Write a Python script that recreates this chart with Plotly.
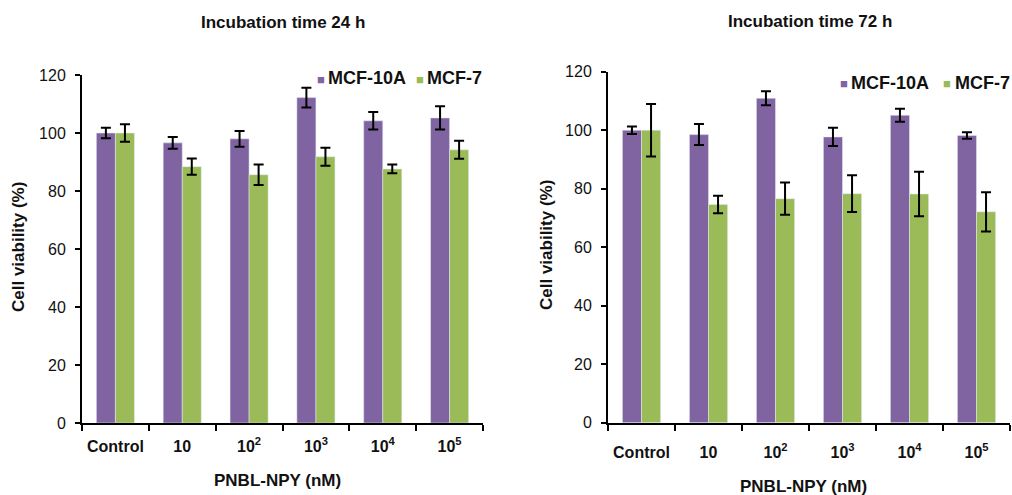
import plotly.graph_objects as go

categories = ["Control", "10", "10<sup>2</sup>", "10<sup>3</sup>", "10<sup>4</sup>", "10<sup>5</sup>"]
series_names = ["MCF-10A", "MCF-7"]

mcf10a_24 = [100, 96.6, 98.0, 112.2, 104.2, 105.2]
mcf10a_24_err = [1.8, 2.0, 2.7, 3.4, 3.0, 4.0]
mcf7_24 = [100, 88.4, 85.6, 91.8, 87.6, 94.2]
mcf7_24_err = [3.0, 2.8, 3.5, 3.1, 1.5, 3.1]

mcf10a_72 = [100, 98.5, 110.9, 97.7, 105.1, 98.2]
mcf10a_72_err = [1.3, 3.6, 2.4, 3.1, 2.2, 1.1]
mcf7_72 = [100, 74.6, 76.6, 78.3, 78.2, 72.1]
mcf7_72_err = [9.0, 3.0, 5.5, 6.3, 7.6, 6.7]

y_ticks = [0, 20, 40, 60, 80, 100, 120]

PURPLE = "#8064A2"
GREEN = "#9BBB59"
FONT = "Arial, Liberation Sans, sans-serif"
TXT = "#111"

W, H = 1012, 495


def px(x):
    return x / W


def py(y):
    return (H - y) / H


fig = go.Figure()


def err(vals):
    return dict(type="data", array=vals, color="black", thickness=2, width=5)


fig.add_trace(go.Bar(x=categories, y=mcf10a_24, error_y=err(mcf10a_24_err), name=series_names[0],
                     marker_color=PURPLE, xaxis="x", yaxis="y", showlegend=False))
fig.add_trace(go.Bar(x=categories, y=mcf7_24, error_y=err(mcf7_24_err), name=series_names[1],
                     marker_color=GREEN, xaxis="x", yaxis="y", showlegend=False))
fig.add_trace(go.Bar(x=categories, y=mcf10a_72, error_y=err(mcf10a_72_err), name=series_names[0],
                     marker_color=PURPLE, xaxis="x2", yaxis="y2", showlegend=False))
fig.add_trace(go.Bar(x=categories, y=mcf7_72, error_y=err(mcf7_72_err), name=series_names[1],
                     marker_color=GREEN, xaxis="x2", yaxis="y2", showlegend=False))

TF = dict(family=FONT, size=16, color=TXT)

xcommon = dict(showline=True, linecolor="black", linewidth=2, ticks="outside", tickson="boundaries",
               ticklen=6, tickwidth=2, tickcolor="black", showgrid=False, automargin=False,
               tickfont=TF, zeroline=False, tickprefix="<b>", ticksuffix="</b>", tickangle=0)
ycommon = dict(showline=True, linecolor="black", linewidth=2, ticks="outside", ticklen=5, tickwidth=2,
               tickcolor="black", showgrid=False, range=[0, 120], tickvals=y_ticks, automargin=False,
               tickfont=TF, zeroline=False, tickprefix="<b>", ticksuffix="</b>", ticklabelstandoff=6)

fig.update_layout(
    width=W, height=H,
    margin=dict(l=0, r=0, t=0, b=0, autoexpand=False),
    plot_bgcolor="white", paper_bgcolor="white",
    barmode="group", bargap=0.43, bargroupgap=0,
    font=dict(family=FONT, size=14, color=TXT),
    xaxis=dict(domain=[px(82), px(483)], anchor="y", ticklabelstandoff=8, **xcommon),
    yaxis=dict(domain=[py(423), py(75)], anchor="x", **ycommon),
    xaxis2=dict(domain=[px(608), px(1010)], anchor="y2", ticklabelstandoff=14, **xcommon),
    yaxis2=dict(domain=[py(422.7), py(71.7)], anchor="x2", **ycommon),
    showlegend=False,
    hovermode=False,
)


def ann(text, x, y, size=17, angle=0, color=TXT, xanchor="center"):
    fig.add_annotation(text=text, x=px(x), y=py(y), xref="paper", yref="paper",
                       showarrow=False, textangle=angle,
                       font=dict(family=FONT, size=size, color=color),
                       xanchor=xanchor, yanchor="middle")


ann("<b>Incubation time 24 h</b>", 283, 23, 17)
ann("<b>Incubation time 72 h</b>", 810, 22, 17)
ann("<b>Cell viability (%)</b>", 18, 247, 17, -90)
ann("<b>Cell viability (%)</b>", 547, 245, 17, -90)
ann("<b>PNBL-NPY (nM)</b>", 277, 480, 17)
ann("<b>PNBL-NPY (nM)</b>", 803, 486, 17)

# colour key for each panel
legend_layout = [
    [(321, 326, 78), (420, 425, 78)],
    [(844, 849, 83), (947, 953, 83)],
]
colors = [PURPLE, GREEN]
for panel in legend_layout:
    for (sx, tx, ly), name, col in zip(panel, series_names, colors):
        ann("■", sx, ly + 1, 13, color=col)
        ann("<b>" + name + "</b>", tx, ly, 18, xanchor="left")

fig.write_html("out.html",
               config={"displayModeBar": False},
               post_script="document.body.style.margin='0';document.body.style.overflow='hidden';")
